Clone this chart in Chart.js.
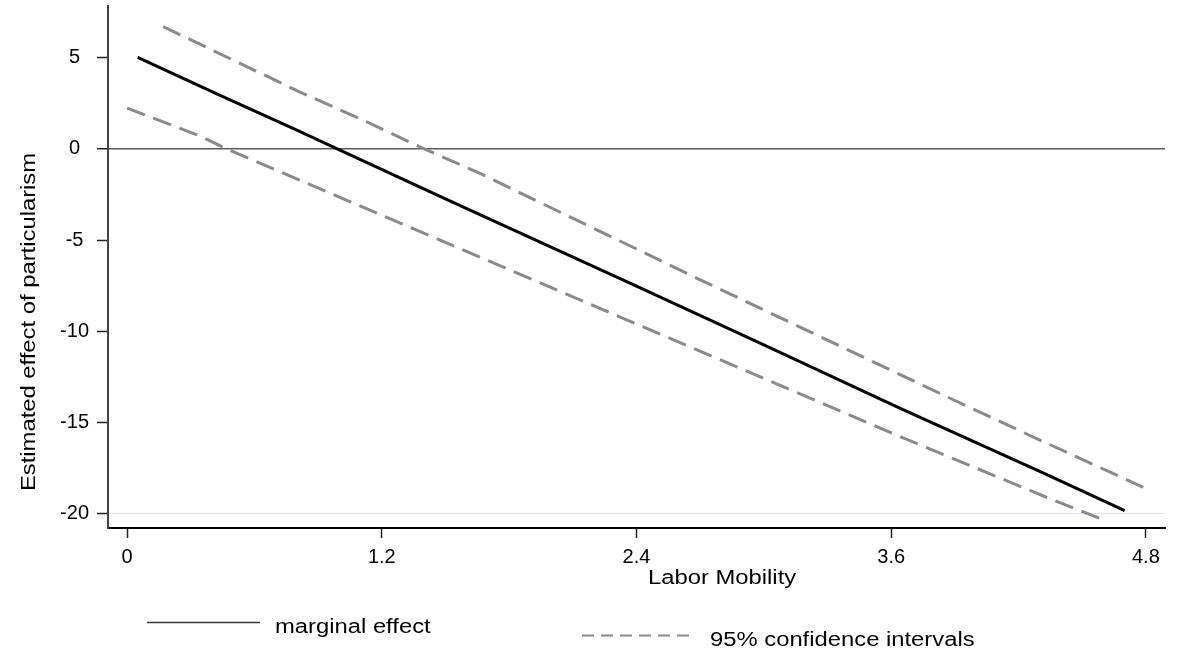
<!DOCTYPE html>
<html>
<head>
<meta charset="utf-8">
<script src="https://cdn.jsdelivr.net/npm/chart.js@4.4.1/dist/chart.umd.min.js"></script>
<style>
html,body{margin:0;padding:0;background:#ffffff;}
#wrap{width:1177px;height:653px;position:relative;}
canvas{display:block;}
</style>
</head>
<body>
<div id="wrap"><canvas id="c" width="1177" height="653"></canvas></div>
<script>
// ---- data ----
const mobilityMain = [0.05, 0.42, 0.81, 0.99, 1.51, 2.40, 3.00, 3.64, 4.30, 4.70];
const effectMain   = [5.02, 3.03, 0.98, 0.00, -2.79, -7.52, -10.74, -14.20, -17.67, -19.82];

const mobilityUpper = [0.17, 0.81, 1.11, 1.40, 1.66, 2.70, 3.91, 4.30, 4.82];
const ciUpper       = [6.70, 3.14, 1.59, 0.00, -1.33, -7.17, -13.84, -15.95, -18.71];

const mobilityLower = [0.00, 0.33, 0.47, 1.03, 2.32, 3.64, 4.32, 4.61];
const ciLower       = [2.23, 0.77, 0.00, -2.79, -9.20, -15.75, -19.03, -20.37];

const xTicks = [0, 1.2, 2.4, 3.6, 4.8];
const xTickLabels = ["0", "1.2", "2.4", "3.6", "4.8"];
const yTicks = [-20, -15, -10, -5, 0, 5];
const yTickLabels = ["-20", "-15", "-10", "-5", "0", "5"];

const xTitle = "Labor Mobility";
const yTitle = "Estimated effect of particularism";
const legendLabels = ["marginal effect", "95% confidence intervals"];

// ---- chart ----
const FONT = "'Liberation Sans', Arial, Helvetica, sans-serif";
const STRETCH = 1.19;

function pts(xs, ys) { return xs.map((x, i) => ({ x: x, y: ys[i] })); }

function wideText(ctx, text, x, y, align, rot) {
  ctx.save();
  ctx.translate(x, y);
  if (rot) ctx.rotate(rot);
  ctx.scale(STRETCH, 1);
  ctx.textAlign = align;
  ctx.fillText(text, 0, 0);
  ctx.restore();
}

const textPlugin = {
  id: 'textPlugin',
  afterDraw(chart) {
    const ctx = chart.ctx;
    ctx.save();
    ctx.fillStyle = '#000';
    ctx.font = '20px ' + FONT;
    ctx.textBaseline = 'alphabetic';
    // axis titles
    wideText(ctx, xTitle, 648, 584, 'left', 0);
    wideText(ctx, yTitle, 35, 322, 'center', -Math.PI / 2);
    // legend
    ctx.strokeStyle = '#3a3a3a';
    ctx.lineWidth = 1.5;
    ctx.setLineDash([]);
    ctx.beginPath(); ctx.moveTo(147, 622.5); ctx.lineTo(260, 622.5); ctx.stroke();
    wideText(ctx, legendLabels[0], 275, 632.5, 'left', 0);
    ctx.strokeStyle = '#8a8a8a';
    ctx.lineWidth = 2;
    ctx.setLineDash([12, 7]);
    ctx.beginPath(); ctx.moveTo(582, 635.5); ctx.lineTo(695, 635.5); ctx.stroke();
    ctx.setLineDash([]);
    wideText(ctx, legendLabels[1], 710, 645.5, 'left', 0);
    ctx.restore();
  }
};

new Chart(document.getElementById('c'), {
  type: 'scatter',
  data: {
    datasets: [
      { label: legendLabels[0], data: pts(mobilityMain, effectMain), showLine: true,
        borderColor: '#000000', borderWidth: 3, pointRadius: 0, fill: false, tension: 0 },
      { label: legendLabels[1], data: pts(mobilityUpper, ciUpper), showLine: true,
        borderColor: '#8a8a8a', borderWidth: 3, borderDash: [19, 9], pointRadius: 0, fill: false },
      { label: legendLabels[1] + ' (lower)', data: pts(mobilityLower, ciLower), showLine: true,
        borderColor: '#8a8a8a', borderWidth: 3, borderDash: [19, 9], pointRadius: 0, fill: false }
    ]
  },
  options: {
    responsive: false,
    animation: false,
    devicePixelRatio: 1,
    layout: { padding: { left: 0, right: 12, top: 6, bottom: 0 } },
    plugins: { legend: { display: false }, tooltip: { enabled: false }, title: { display: false } },
    scales: {
      x: {
        type: 'linear', position: 'bottom',
        min: -0.09, max: 4.89,
        afterFit(s) { s.height = 125; s.paddingLeft = 0; s.paddingRight = 0; },
        afterBuildTicks(s) { s.ticks = xTicks.map(v => ({ value: v })); },
        ticks: {
          autoSkip: false, maxRotation: 0, minRotation: 0, padding: 7,
          color: '#000', font: { family: FONT, size: 20 },
          callback: (v, i) => xTickLabels[i]
        },
        grid: { drawOnChartArea: false, color: 'rgba(0,0,0,0)', tickColor: '#222', tickLength: 10, tickWidth: 1.5 },
        border: { display: true, color: '#000', width: 2 }
      },
      y: {
        type: 'linear', position: 'left',
        min: -20.77, max: 7.83,
        afterFit(s) { s.width = 108; s.paddingTop = 0; s.paddingBottom = 0; },
        afterBuildTicks(s) { s.ticks = yTicks.map(v => ({ value: v })); },
        ticks: {
          autoSkip: false, padding: 8, crossAlign: 'center',
          color: '#000', font: { family: FONT, size: 20 },
          callback: (v, i) => yTickLabels[i]
        },
        grid: {
          drawOnChartArea: true,
          color: c => (c.tick && c.tick.value === 0) ? '#5a5a5a' : ((c.tick && c.tick.value === -20) ? '#dfe6ef' : 'rgba(0,0,0,0)'),
          lineWidth: c => (c.tick && c.tick.value === 0) ? 1.5 : 1,
          tickColor: '#222', tickLength: 11, tickWidth: 1.5
        },
        border: { display: true, color: '#444', width: 2 }
      }
    }
  },
  plugins: [textPlugin]
});
</script>
</body>
</html>
